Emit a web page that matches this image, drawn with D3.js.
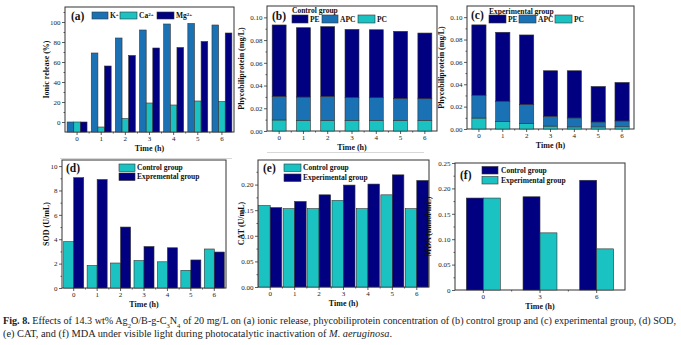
<!DOCTYPE html>
<html>
<head>
<meta charset="utf-8">
<script src="https://cdn.jsdelivr.net/npm/d3@7"></script>
<style>
  body { margin: 0; background: #fff; }
  svg { display: block; font-family: "Liberation Serif", "Times New Roman", serif; }
</style>
</head>
<body>
<svg id="fig" width="681" height="345"></svg>
<script>
// ---- data ----
const hours = [0, 1, 2, 3, 4, 5, 6];
const mdaHours = [0, 3, 6];

// (a) ionic release (%)
const ionK = [0, 69, 84, 92, 98, 98.5, 97];
const ionCa = [0, -5, 3.5, 19, 17, 21, 20.5];
const ionMg = [0, 56, 66.5, 74, 74.5, 80.5, 89];

// (b) control group phycobiliprotein (mg/L), component values
const ctrlPC = [0.0097, 0.0093, 0.0093, 0.0092, 0.0092, 0.0092, 0.0092];
const ctrlAPC = [0.0208, 0.0206, 0.0212, 0.0204, 0.0201, 0.0195, 0.0192];
const ctrlPE = [0.0628, 0.0610, 0.0613, 0.0598, 0.0598, 0.0590, 0.0578];

// (c) experimental group phycobiliprotein (mg/L)
const expPC = [0.0098, 0.0067, 0.0048, 0.0026, 0.0019, 0.0019, 0.0020];
const expAPC = [0.0204, 0.0182, 0.0171, 0.0088, 0.0080, 0.0044, 0.0052];
const expPE = [0.0629, 0.0616, 0.0622, 0.0407, 0.0422, 0.0317, 0.0344];

// (d) SOD (U/mL)
const sodCtrl = [3.8, 1.85, 2.05, 2.25, 2.15, 1.45, 3.2];
const sodExp = [9.05, 8.9, 5.0, 3.4, 3.3, 2.3, 2.95];

// (e) CAT (U/mL)
const catCtrl = [0.159, 0.153, 0.153, 0.169, 0.153, 0.180, 0.153];
const catExp = [0.155, 0.167, 0.180, 0.199, 0.201, 0.219, 0.208];

// (f) MDA (mmol/mL)
const mdaCtrl = [0.181, 0.1835, 0.216];
const mdaExp = [0.181, 0.1125, 0.081];

const navy = "#000080";
const blue = "#1a72b5";
const cyan = "#1bc2c2";
const edge = "#333";

const svg = d3.select("#fig");
const two = d3.format(".2f");

// draws frame, axes and returns scales
function frame(o) {
  const g = svg.append("g");
  const x = d3.scaleBand().domain(o.cats).range([o.left, o.right]).padding(0);
  const y = d3.scaleLinear().domain(o.yDomain).range([o.bottom, o.top]);

  const yAxis = d3.axisLeft(y).tickValues(o.yTicks).tickSize(3).tickPadding(1.5)
    .tickFormat(o.fmt);
  const yMinor = d3.axisLeft(y).tickValues(o.yMinor).tickSize(1.5).tickFormat("");

  g.append("g").attr("class", "yaxis").attr("transform", `translate(${o.left},0)`).call(yAxis);
  g.append("g").attr("transform", `translate(${o.left},0)`).call(yMinor);

  const xAxis = d3.axisBottom(x).tickSize(3).tickPadding(1.5);
  g.append("g").attr("transform", `translate(0,${o.bottom})`).call(xAxis);
  // minor ticks on band edges
  g.append("g").selectAll("line")
    .data(o.cats.slice(1))
    .join("line")
    .attr("x1", d => x(d)).attr("x2", d => x(d))
    .attr("y1", o.bottom).attr("y2", o.bottom + 1.5)
    .attr("stroke", edge).attr("stroke-width", 0.8);

  g.selectAll(".domain").remove();
  g.selectAll(".tick line").attr("stroke", edge).attr("stroke-width", 0.8);
  g.selectAll(".tick text").attr("font-size", 7).attr("fill", "#222")
    .attr("font-family", "Liberation Serif");

  g.append("rect")
    .attr("x", o.left).attr("y", o.top)
    .attr("width", o.right - o.left).attr("height", o.bottom - o.top)
    .attr("fill", "none").attr("stroke", edge).attr("stroke-width", 1);

  g.append("text")
    .attr("x", (o.left + o.right) / 2).attr("y", o.bottom + 19)
    .attr("text-anchor", "middle").attr("font-size", 8).attr("font-weight", "bold")
    .attr("fill", "#111").text("Time (h)");

  g.append("text")
    .attr("transform", `translate(${o.yTitleX},${(o.top + o.bottom) / 2}) rotate(-90)`)
    .attr("text-anchor", "middle").attr("font-size", 8).attr("font-weight", "bold")
    .attr("fill", "#111").text(o.yTitle);

  g.append("text")
    .attr("x", o.tagX).attr("y", o.tagY)
    .attr("font-size", 11.5).attr("font-weight", "bold").attr("fill", "#111")
    .text(o.tag);

  return { g, x, y, o };
}

function groupedBars(p, series, colors, pad) {
  const inner = d3.scaleBand().domain(d3.range(series.length))
    .range([0, p.x.bandwidth()]).paddingInner(0).paddingOuter(pad);
  const base = p.y(p.o.yDomain[0]);
  series.forEach((vals, si) => {
    p.g.append("g").selectAll("rect")
      .data(vals.map((v, i) => ({ cat: p.o.cats[i], v })))
      .join("rect")
      .attr("x", d => p.x(d.cat) + inner(si))
      .attr("width", inner.bandwidth())
      .attr("y", d => p.y(d.v))
      .attr("height", d => base - p.y(d.v))
      .attr("fill", colors[si])
      .attr("stroke", edge).attr("stroke-width", 0.6);
  });
}

function stackedBars(p, pc, apc, pe, pad) {
  const rows = p.o.cats.map((c, i) => ({ cat: c, PC: pc[i], APC: apc[i], PE: pe[i] }));
  const stack = d3.stack().keys(["PC", "APC", "PE"])(rows);
  const col = { PC: cyan, APC: blue, PE: navy };
  const inner = d3.scaleBand().domain([0]).range([0, p.x.bandwidth()]).paddingOuter(pad);
  stack.forEach(layer => {
    p.g.append("g").selectAll("rect")
      .data(layer)
      .join("rect")
      .attr("x", d => p.x(d.data.cat) + inner(0))
      .attr("width", inner.bandwidth())
      .attr("y", d => p.y(d[1]))
      .attr("height", d => p.y(d[0]) - p.y(d[1]))
      .attr("fill", col[layer.key])
      .attr("stroke", edge).attr("stroke-width", 0.6);
  });
}

function legendItem(x, y, w, h, color, label, tx) {
  svg.append("rect").attr("x", x).attr("y", y).attr("width", w).attr("height", h)
    .attr("fill", color).attr("stroke", edge).attr("stroke-width", 0.6);
  const t = svg.append("text").attr("x", tx).attr("y", y + h / 2 + 2.6)
    .attr("font-size", 7.5).attr("font-weight", "bold").attr("fill", "#111");
  return t.text(label);
}

function ionLabel(t, base, sup) {
  t.text(base);
  t.append("tspan").attr("baseline-shift", "super").attr("font-size", 5).text(sup);
}

// ---- (a) ----
const pa = frame({
  cats: hours, left: 65, right: 234, top: 7, bottom: 132,
  yDomain: [-10, 115], yTicks: [0, 20, 40, 60, 80, 100], yMinor: [10, 30, 50, 70, 90, 110],
  fmt: d3.format("d"), yTitle: "Ionic release (%)", yTitleX: 49,
  tag: "(a)", tagX: 71, tagY: 20
});
groupedBars(pa, [ionK, ionCa, ionMg], [blue, cyan, navy], 0.32);
ionLabel(legendItem(92, 12, 16, 7, blue, "", 110), "K", "+");
ionLabel(legendItem(120, 12, 17, 7, cyan, "", 139), "Ca", "2+");
ionLabel(legendItem(157, 12, 17, 7, navy, "", 176), "Mg", "2+");

// ---- (b) ----
const pb = frame({
  cats: hours, left: 267, right: 437, top: 6, bottom: 131,
  yDomain: [0, 0.11], yTicks: [0, 0.02, 0.04, 0.06, 0.08, 0.10], yMinor: [0.01, 0.03, 0.05, 0.07, 0.09],
  fmt: two, yTitle: "Phycobiliprotein (mg/L)", yTitleX: 244,
  tag: "(b)", tagX: 272, tagY: 20
});
stackedBars(pb, ctrlPC, ctrlAPC, ctrlPE, 0.37);
svg.append("text").attr("x", 292).attr("y", 13).attr("font-size", 7.5)
  .attr("font-weight", "bold").attr("fill", "#111").text("Control group");
legendItem(292, 15, 16, 8, navy, "PE", 310);
legendItem(322, 15, 16, 8, blue, "APC", 340);
legendItem(358, 15, 17, 8, cyan, "PC", 377);

// ---- (c) ----
const pcn = frame({
  cats: hours, left: 467, right: 634, top: 6, bottom: 129,
  yDomain: [0, 0.11], yTicks: [0, 0.02, 0.04, 0.06, 0.08, 0.10], yMinor: [0.01, 0.03, 0.05, 0.07, 0.09],
  fmt: two, yTitle: "Phycobiliprotein (mg/L)", yTitleX: 444,
  tag: "(c)", tagX: 471, tagY: 19
});
stackedBars(pcn, expPC, expAPC, expPE, 0.34);
svg.append("text").attr("x", 489).attr("y", 13.5).attr("font-size", 7.5)
  .attr("font-weight", "bold").attr("fill", "#111").text("Experimental group");
legendItem(489, 15, 17, 8, navy, "PE", 508);
legendItem(519, 15, 17, 8, blue, "APC", 538);
legendItem(555, 15, 17, 8, cyan, "PC", 574);

// ---- (d) ----
const pd = frame({
  cats: hours, left: 62, right: 226, top: 160, bottom: 288,
  yDomain: [0, 10.5], yTicks: [0, 2, 4, 6, 8, 10], yMinor: [1, 3, 5, 7, 9],
  fmt: d3.format("d"), yTitle: "SOD (U/mL)", yTitleX: 49,
  tag: "(d)", tagX: 66, tagY: 172
});
groupedBars(pd, [sodCtrl, sodExp], [cyan, navy], 0.17);
legendItem(119, 164, 16, 7.5, cyan, "Control group", 137);
legendItem(119, 173, 16, 7.5, navy, "Expremental group", 137);

// ---- (e) ----
const pe = frame({
  cats: hours, left: 258, right: 429, top: 160, bottom: 287,
  yDomain: [0, 0.248], yTicks: [0, 0.05, 0.10, 0.15, 0.20], yMinor: [0.025, 0.075, 0.125, 0.175, 0.225],
  fmt: two, yTitle: "CAT (U/mL)", yTitleX: 244,
  tag: "(e)", tagX: 263, tagY: 172
});
groupedBars(pe, [catCtrl, catExp], [cyan, navy], 0.06);
legendItem(284, 164, 17, 7.5, cyan, "Control group", 303);
legendItem(284, 174, 17, 7.5, navy, "Experimental group", 303);

// ---- (f) ----
const pf = frame({
  cats: mdaHours, left: 455, right: 625, top: 163, bottom: 290,
  yDomain: [0, 0.25], yTicks: [0, 0.05, 0.10, 0.15, 0.20, 0.25], yMinor: [0.025, 0.075, 0.125, 0.175, 0.225],
  fmt: d => (d === 0 ? "0" : two(d)), yTitle: "MDA (mmol/mL)", yTitleX: 431,
  tag: "(f)", tagX: 460, tagY: 179
});
groupedBars(pf, [mdaCtrl, mdaExp], [navy, cyan], 0.67);
legendItem(482, 166.5, 16, 7.5, navy, "Control group", 501);
legendItem(482, 176.5, 16, 7.5, cyan, "Experimental group", 501);

// faint sub-image borders
svg.append("line").attr("x1", 60).attr("x2", 232).attr("y1", 158.5).attr("y2", 158.5)
  .attr("stroke", "#d8d8d8").attr("stroke-width", 1);
svg.append("line").attr("x1", 267).attr("x2", 424).attr("y1", 152.5).attr("y2", 152.5)
  .attr("stroke", "#d8d8d8").attr("stroke-width", 1);

// ---- caption ----
const cap1 = svg.append("text").attr("x", 3).attr("y", 324).attr("font-size", 10)
  .attr("fill", "#222").attr("textLength", 673).attr("lengthAdjust", "spacingAndGlyphs");
cap1.append("tspan").attr("font-weight", "bold").text("Fig. 8.");
cap1.append("tspan").text(" Effects of 14.3 wt% Ag");
cap1.append("tspan").attr("baseline-shift", "sub").attr("font-size", 6.5).text("2");
cap1.append("tspan").text("O/B-g-C");
cap1.append("tspan").attr("baseline-shift", "sub").attr("font-size", 6.5).text("3");
cap1.append("tspan").text("N");
cap1.append("tspan").attr("baseline-shift", "sub").attr("font-size", 6.5).text("4");
cap1.append("tspan").text(" of 20 mg/L on (a) ionic release, phycobiliprotein concentration of (b) control group and (c) experimental group, (d) SOD,");

const cap2 = svg.append("text").attr("x", 3).attr("y", 337).attr("font-size", 10)
  .attr("fill", "#222").attr("textLength", 389).attr("lengthAdjust", "spacingAndGlyphs");
cap2.append("tspan").text("(e) CAT, and (f) MDA under visible light during photocatalytic inactivation of ");
cap2.append("tspan").attr("font-style", "italic").text("M. aeruginosa");
cap2.append("tspan").text(".");
</script>
</body>
</html>
